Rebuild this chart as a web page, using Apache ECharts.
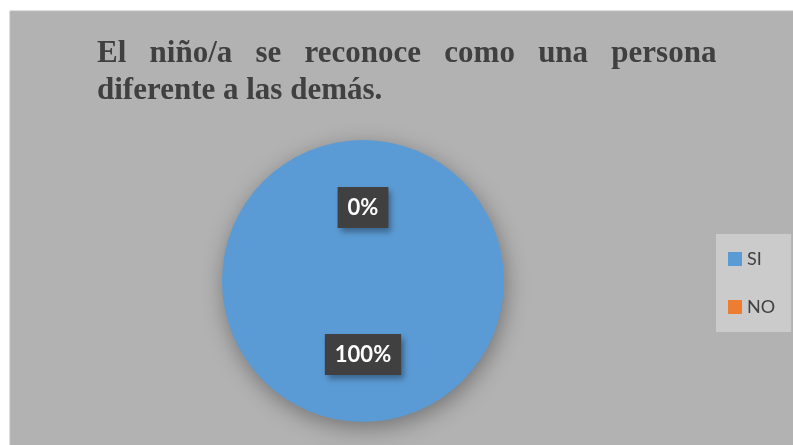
<!DOCTYPE html>
<html>
<head>
<meta charset="utf-8">
<script src="https://cdn.jsdelivr.net/npm/echarts@6/dist/echarts.min.js"></script>
<style>
  html, body { margin: 0; padding: 0; background: #ffffff; }
  #chart { width: 793px; height: 445px; }
</style>
</head>
<body>
<div id="chart"></div>
<script>
const categories = ['SI', 'NO']
const values = [100, 0]
const colors = ['#5b9bd5', '#ed7d31']
const titleLines = ['El   niño/a   se   reconoce   como   una   persona', 'diferente a las demás.']

const myChart = echarts.init(document.getElementById('chart'))
const option = {
  backgroundColor: '#ffffff',
  animation: false,
  graphic: [
    {
      type: 'rect',
      z: -10,
      shape: { x: 10, y: 11, width: 790, height: 440 },
      style: { fill: '#b2b2b2', stroke: '#bdbdbd', lineWidth: 1 }
    }
  ],
  title: {
    text: titleLines.join('\n'),
    left: 97,
    top: 35,
    padding: 0,
    textStyle: {
      fontFamily: 'Liberation Serif',
      fontWeight: 'bold',
      fontSize: 31,
      lineHeight: 37,
      color: '#404040'
    }
  },
  legend: {
    orient: 'vertical',
    left: 716,
    top: 234,
    padding: [16, 16, 16, 12],
    backgroundColor: '#cbcbcb',
    icon: 'rect',
    itemWidth: 14,
    itemHeight: 14,
    itemGap: 30,
    itemStyle: { shadowBlur: 0 },
    textStyle: { fontFamily: 'Lato', fontSize: 18, color: '#404040' },
    data: categories
  },
  color: colors,
  series: [
    {
      name: 'Respuestas',
      type: 'pie',
      center: [363, 281],
      radius: 141,
      startAngle: 90,
      clockwise: true,
      avoidLabelOverlap: false,
      stillShowZeroSum: true,
      itemStyle: {
        shadowBlur: 22,
        shadowOffsetX: 2,
        shadowOffsetY: 6,
        shadowColor: 'rgba(0, 0, 0, 0.35)'
      },
      label: {
        show: true,
        position: 'inner',
        formatter: '{d}%',
        color: '#ffffff',
        fontFamily: 'Lato',
        fontWeight: 'bold',
        fontSize: 22,
        backgroundColor: '#404040',
        padding: [10, 10, 9, 10],
        shadowBlur: 6,
        shadowOffsetX: 3,
        shadowOffsetY: 4,
        shadowColor: 'rgba(0, 0, 0, 0.35)'
      },
      labelLine: { show: false },
      data: categories.map((c, i) => ({ name: c, value: values[i] }))
    }
  ]
}
myChart.setOption(option, true)
</script>
</body>
</html>
